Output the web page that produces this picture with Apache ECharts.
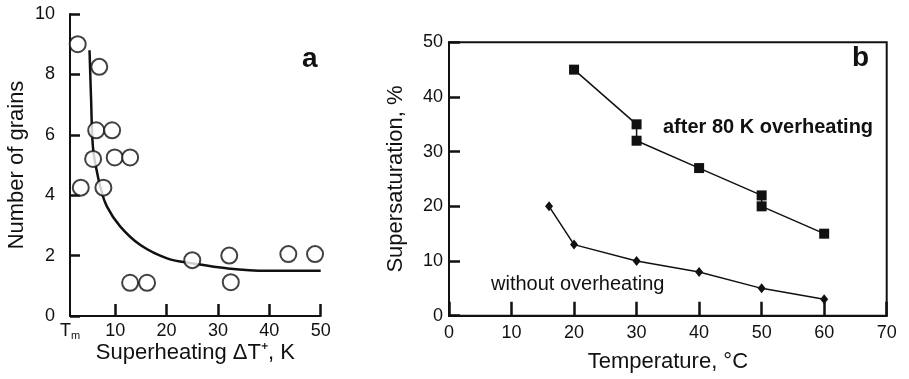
<!DOCTYPE html>
<html>
<head>
<meta charset="utf-8">
<script src="https://cdn.jsdelivr.net/npm/echarts@6/dist/echarts.min.js"></script>
<style>
  html, body { margin: 0; padding: 0; background: #fff; }
  #chart { width: 909px; height: 379px; }
</style>
</head>
<body>
<div id="chart"></div>
<script>
// panel a: grains vs superheating
const grainPoints = [
  [2.7, 9.0], [6.9, 8.25], [6.3, 6.15], [9.4, 6.15], [5.7, 5.2], [9.9, 5.25],
  [12.9, 5.25], [3.3, 4.25], [7.7, 4.25], [12.9, 1.1], [16.2, 1.1], [25.0, 1.85],
  [32.2, 2.0], [32.5, 1.12], [43.7, 2.05], [48.9, 2.05]
]
const grainFit = [
  [5.0, 8.8], [5.3, 7.2], [5.66, 5.6], [6.3, 4.9], [7.1, 4.28], [8.4, 3.62],
  [11.0, 2.96], [14.9, 2.35], [20.1, 1.91], [25.2, 1.74], [31.7, 1.58],
  [39.5, 1.5], [50.0, 1.5]
]
const superheatTicks = [10, 20, 30, 40, 50]
const meltPoint = 1.2

// panel b: supersaturation vs temperature
const afterOverheating = [[20, 45], [30, 35], [30, 32], [40, 27], [50, 22], [50, 20], [60, 15]]
const withoutOverheating = [[16, 20], [20, 13], [30, 10], [40, 8], [50, 5], [60, 3]]

const FONT = '"Liberation Sans", Arial, sans-serif'
const INK = '#111'

const axisCommon = {
  axisLine: { show: true, lineStyle: { color: INK, width: 2 } },
  axisTick: { show: true, inside: true, length: 10, lineStyle: { color: INK, width: 2.5 } },
  splitLine: { show: false },
  axisLabel: { color: INK, fontSize: 18, fontFamily: FONT },
  nameTextStyle: { color: INK, fontSize: 22, fontFamily: FONT },
  nameLocation: 'middle',
  nameMoveOverlap: false,
}

const chart = echarts.init(document.getElementById('chart'))

chart.setOption({
  animation: false,
  backgroundColor: '#fff',
  grid: [
    { left: 70, top: 14, width: 250.7, height: 302 },
    { left: 449, top: 42.3, width: 437.7, height: 273.4, show: true, borderColor: INK, borderWidth: 2 },
  ],
  xAxis: [
    {
      ...axisCommon,
      gridIndex: 0,
      type: 'value',
      min: meltPoint,
      max: 50,
      name: 'Superheating ΔT⁺, K',
      nameGap: 26,
      axisTick: { ...axisCommon.axisTick, length: 12, customValues: superheatTicks },
      axisLabel: {
        ...axisCommon.axisLabel,
        margin: 6,
        customValues: [meltPoint, ...superheatTicks],
        formatter: v => (v < 5 ? '{t|T}{s|m}' : String(v)),
        rich: {
          t: { fontSize: 18, fontFamily: FONT, color: INK },
          s: { fontSize: 11, fontFamily: FONT, color: INK, padding: [8, 0, 0, 0] },
        },
      },
    },
    {
      ...axisCommon,
      gridIndex: 1,
      type: 'value',
      min: 0,
      max: 70,
      interval: 10,
      name: 'Temperature, °C',
      nameGap: 35,
      axisTick: { ...axisCommon.axisTick, length: 14 },
      axisLabel: { ...axisCommon.axisLabel, margin: 8 },
    },
  ],
  yAxis: [
    {
      ...axisCommon,
      gridIndex: 0,
      type: 'value',
      min: 0,
      max: 10,
      interval: 2,
      name: 'Number of grains',
      nameGap: 42,
      axisLabel: { ...axisCommon.axisLabel, margin: 15 },
    },
    {
      ...axisCommon,
      gridIndex: 1,
      type: 'value',
      min: 0,
      max: 50,
      interval: 10,
      name: 'Supersaturation, %',
      nameGap: 42,
      axisTick: { ...axisCommon.axisTick, length: 11 },
      axisLabel: { ...axisCommon.axisLabel, margin: 6 },
    },
  ],
  series: [
    {
      type: 'line',
      xAxisIndex: 0,
      yAxisIndex: 0,
      data: grainFit,
      smooth: 0.4,
      showSymbol: false,
      lineStyle: { color: INK, width: 2.5 },
      z: 2,
    },
    {
      type: 'scatter',
      xAxisIndex: 0,
      yAxisIndex: 0,
      data: grainPoints,
      symbol: 'circle',
      symbolSize: 16,
      itemStyle: { color: '#fff', borderColor: INK, borderWidth: 2 },
      z: 3,
    },
    {
      type: 'line',
      xAxisIndex: 1,
      yAxisIndex: 1,
      data: afterOverheating,
      symbol: 'rect',
      symbolSize: 10,
      itemStyle: { color: INK },
      lineStyle: { color: INK, width: 1.5 },
    },
    {
      type: 'line',
      xAxisIndex: 1,
      yAxisIndex: 1,
      data: withoutOverheating,
      symbol: 'diamond',
      symbolSize: [8, 10],
      itemStyle: { color: INK },
      lineStyle: { color: INK, width: 1.5 },
    },
  ],
  graphic: [
    {
      type: 'text', left: 302, top: 45,
      style: { text: 'a', fontSize: 28, fontWeight: 'bold', fontFamily: FONT, fill: INK },
    },
    {
      type: 'text', left: 852, top: 44,
      style: { text: 'b', fontSize: 28, fontWeight: 'bold', fontFamily: FONT, fill: INK },
    },
    {
      type: 'text', left: 663, top: 117,
      style: { text: 'after 80 K overheating', fontSize: 20, fontWeight: 'bold', fontFamily: FONT, fill: INK },
    },
    {
      type: 'text', left: 491, top: 274,
      style: { text: 'without overheating', fontSize: 20, fontFamily: FONT, fill: INK },
    },
  ],
})
</script>
</body>
</html>
